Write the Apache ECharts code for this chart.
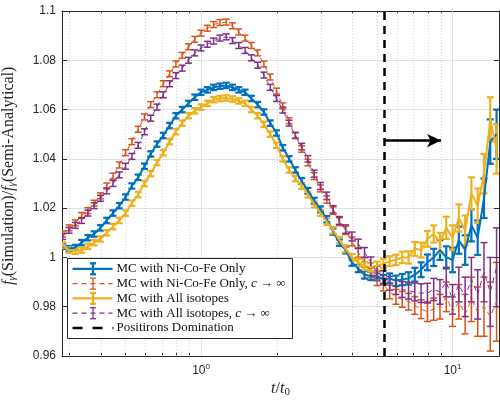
<!DOCTYPE html>
<html><head><meta charset="utf-8">
<script src="https://cdn.jsdelivr.net/npm/echarts@6/dist/echarts.min.js"></script>
<style>html,body{margin:0;padding:0;background:#fff}#c{width:500px;height:400px}</style>
</head><body><div id="c"></div>
<script>
// ---- data ----
const tValues = [0.2818,0.2985,0.3162,0.3350,0.3548,0.3758,0.3981,0.4217,0.4467,0.4732,
 0.5012,0.5309,0.5623,0.5957,0.6310,0.6683,0.7079,0.7499,0.7943,0.8414,
 0.8913,0.9441,1.0000,1.0593,1.1220,1.1885,1.2589,1.3335,1.4125,1.4962,
 1.5849,1.6788,1.7783,1.8836,1.9953,2.1135,2.2387,2.3714,2.5119,2.6607,
 2.8184,2.9854,3.1623,3.3497,3.5481,3.7584,3.9811,4.2170,4.4668,4.7315,
 5.0119,5.3088,5.6234,5.9566,6.3096,6.6834,7.0795,7.4989,7.9433,8.4140,
 8.9125,9.4406,10.000,10.593,11.220,11.885,12.589,13.335,14.125,14.962];

const niCoFe = [1.0045,1.0035,1.0040,1.0060,1.0080,1.0095,1.0120,1.0150,1.0180,1.0210,
 1.0245,1.0290,1.0325,1.0370,1.0420,1.0460,1.0495,1.0535,1.0575,1.0600,
 1.0625,1.0650,1.0670,1.0680,1.0690,1.0695,1.0698,1.0690,1.0680,1.0670,
 1.0645,1.0620,1.0590,1.0545,1.0505,1.0445,1.0400,1.0355,1.0310,1.0270,
 1.0230,1.0195,1.0155,1.0105,1.0060,1.0030,0.9980,0.9955,0.9930,0.9925,
 0.9925,0.9910,0.9915,0.9905,0.9910,0.9915,0.9930,0.9950,0.9980,1.0000,
 1.0030,1.0000,0.9990,1.0070,1.0030,1.0130,1.0080,1.0240,1.0470,1.0500];

const niCoFeInf = [1.0095,1.0120,1.0140,1.0170,1.0190,1.0220,1.0250,1.0290,1.0330,1.0375,
 1.0425,1.0470,1.0520,1.0570,1.0620,1.0660,1.0705,1.0745,1.0785,1.0820,
 1.0855,1.0885,1.0910,1.0930,1.0945,1.0953,1.0955,1.0940,1.0915,1.0890,
 1.0860,1.0830,1.0785,1.0732,1.0675,1.0615,1.0555,1.0495,1.0440,1.0385,
 1.0330,1.0280,1.0235,1.0190,1.0145,1.0110,1.0065,1.0020,0.9980,0.9940,
 0.9910,0.9890,0.9860,0.9840,0.9830,0.9820,0.9805,0.9790,0.9780,0.9790,
 0.9800,0.9840,0.9780,0.9820,0.9770,0.9830,0.9780,0.9800,0.9760,0.9820];

const allIso = [1.0050,1.0030,1.0025,1.0030,1.0045,1.0060,1.0075,1.0100,1.0125,1.0150,
 1.0180,1.0220,1.0255,1.0300,1.0340,1.0385,1.0425,1.0470,1.0510,1.0545,
 1.0575,1.0595,1.0610,1.0625,1.0640,1.0645,1.0647,1.0643,1.0635,1.0625,
 1.0600,1.0575,1.0540,1.0500,1.0455,1.0400,1.0355,1.0320,1.0290,1.0255,
 1.0215,1.0180,1.0145,1.0110,1.0070,1.0035,1.0000,0.9980,0.9965,0.9960,
 0.9965,0.9975,0.9985,0.9990,1.0000,1.0000,1.0035,1.0030,1.0075,1.0095,
 1.0060,1.0120,1.0080,1.0160,1.0110,1.0260,1.0210,1.0340,1.0560,1.0440];

const allIsoInf = [1.0085,1.0110,1.0130,1.0150,1.0180,1.0210,1.0240,1.0270,1.0300,1.0335,
 1.0370,1.0410,1.0455,1.0510,1.0565,1.0610,1.0660,1.0705,1.0738,1.0768,
 1.0800,1.0830,1.0850,1.0865,1.0878,1.0890,1.0895,1.0880,1.0860,1.0840,
 1.0810,1.0780,1.0740,1.0690,1.0645,1.0598,1.0545,1.0495,1.0450,1.0400,
 1.0340,1.0290,1.0250,1.0195,1.0150,1.0115,1.0085,1.0055,1.0020,0.9980,
 0.9940,0.9920,0.9895,0.9880,0.9870,0.9865,0.9860,0.9855,0.9855,0.9870,
 0.9860,0.9900,0.9830,0.9890,0.9840,0.9910,0.9850,0.9940,0.9860,0.9960];

// half-widths of the error bars
const errFinite = [0.0011,0.0011,0.0011,0.0011,0.0011,0.0011,0.0011,0.0011,0.0011,0.0011,
 0.0011,0.0011,0.0011,0.0011,0.0011,0.0011,0.0011,0.0011,0.0011,0.0011,
 0.0011,0.0011,0.0011,0.0011,0.0011,0.0011,0.0011,0.0011,0.0011,0.0011,
 0.0011,0.0011,0.0011,0.0011,0.0011,0.0011,0.0011,0.0011,0.0012,0.0012,
 0.0012,0.0012,0.0013,0.0013,0.0013,0.0014,0.0014,0.0015,0.0016,0.0017,
 0.0018,0.0019,0.0020,0.0021,0.0023,0.0025,0.0028,0.0030,0.0032,0.0035,
 0.0040,0.0045,0.0050,0.0055,0.0060,0.0065,0.0070,0.0080,0.0090,0.0100];

const errInf = [0.0012,0.0012,0.0012,0.0012,0.0012,0.0012,0.0012,0.0012,0.0012,0.0012,
 0.0012,0.0012,0.0012,0.0012,0.0012,0.0012,0.0012,0.0012,0.0012,0.0012,
 0.0012,0.0012,0.0012,0.0012,0.0012,0.0012,0.0012,0.0012,0.0012,0.0012,
 0.0012,0.0012,0.0012,0.0012,0.0012,0.0012,0.0012,0.0012,0.0013,0.0013,
 0.0014,0.0014,0.0015,0.0015,0.0016,0.0017,0.0018,0.0019,0.0020,0.0022,
 0.0024,0.0026,0.0028,0.0030,0.0032,0.0034,0.0036,0.0038,0.0040,0.0045,
 0.0050,0.0060,0.0060,0.0070,0.0080,0.0090,0.0100,0.0120,0.0140,0.0160];

const xMajorTicks = [1, 10];
const xMinorTicks = [0.3,0.4,0.5,0.6,0.7,0.8,0.9,2,3,4,5,6,7,8,9];
const xMin = 0.28, xMax = 15.3;
const yMin = 0.96, yMax = 1.1, yStep = 0.02;
const positronStart = 5.36;
const arrowY = 1.0474, arrowEnd = 9.0;

const seriesNames = ['MC with Ni-Co-Fe Only', 'MC with Ni-Co-Fe Only, c → ∞',
  'MC with All isotopes', 'MC with All isotopes, c → ∞', 'Positirons Domination'];
const legendTexts = ['MC with Ni-Co-Fe Only', 'MC with Ni-Co-Fe Only, {i|c} → ∞',
  'MC with All isotopes', 'MC with All isotopes, {i|c} → ∞', 'Positirons Domination'];
const yTitle = '{i|f}{s|γ}{n|(Simulation)/}{i|f}{s|γ}{n|(Semi-Analytical)}';
const xTitle = '{i|t}{n|/}{i|t}{s|0}';

// ---- styles ----
const C = ['#0072BD', '#D95319', '#EDB120', '#7E2F8E'];
const values = [niCoFe, niCoFeInf, allIso, allIsoInf];
const errs = [errFinite, errInf, errFinite, errInf];
const widths = [2.2, 1.5, 2.2, 1.5];
const lineWidths = [2, 1, 2, 1];
const dashed = [false, true, false, true];
const serif = 'Liberation Serif';
const axisColor = '#262626';

function errRender(color, lw, cap) {
  return function (params, api) {
    const x = api.value(0), y = api.value(1), e = api.value(2);
    const top = api.coord([x, y + e]);
    const bot = api.coord([x, y - e]);
    const h = cap / 2;
    const st = { stroke: color, lineWidth: lw };
    return { type: 'group', children: [
      { type: 'line', shape: { x1: top[0], y1: top[1], x2: bot[0], y2: bot[1] }, style: st },
      { type: 'line', shape: { x1: top[0] - h, y1: top[1], x2: top[0] + h, y2: top[1] }, style: st },
      { type: 'line', shape: { x1: bot[0] - h, y1: bot[1], x2: bot[0] + h, y2: bot[1] }, style: st }
    ]};
  };
}

const series = [];
// grid lines for log axis
series.push({
  type: 'line', data: [], z: 1, silent: true, xAxisIndex: 0, yAxisIndex: 0,
  markLine: {
    silent: true, z: 1, symbol: ['none', 'none'], label: { show: false }, animation: false,
    lineStyle: { color: '#d0d0d0', type: [1, 2], width: 1 },
    data: xMinorTicks.map(v => ({ xAxis: v })).concat(
      xMajorTicks.map(v => ({ xAxis: v, lineStyle: { color: '#e2e2e2', type: 'solid', width: 1 } })))
  }
});
for (let s = 0; s < 4; s++) {
  series.push({
    name: seriesNames[s], type: 'custom', xAxisIndex: 0, yAxisIndex: 0, z: 3, clip: true,
    renderItem: errRender(C[s], widths[s], 7),
    encode: { x: 0, y: 1 },
    data: tValues.map((t, i) => [t, values[s][i], errs[s][i]])
  });
  series.push({
    name: seriesNames[s], type: 'line', xAxisIndex: 0, yAxisIndex: 0, z: 3,
    symbol: 'none', showSymbol: false, silent: true,
    lineStyle: { color: C[s], width: lineWidths[s], type: dashed[s] ? [5, 4] : 'solid' },
    data: tValues.map((t, i) => [t, values[s][i]])
  });
}
series.push({
  name: seriesNames[4], type: 'line', data: [], z: 5, xAxisIndex: 0, yAxisIndex: 0,
  markLine: {
    silent: true, z: 5, animation: false, label: { show: false }, symbol: ['none', 'none'],
    data: [
      { xAxis: positronStart, lineStyle: { color: '#000', width: 2.5, type: [8, 6] } },
      [ { coord: [positronStart, arrowY], symbol: 'none', lineStyle: { color: '#000', width: 2.5, type: 'solid' } },
        { coord: [arrowEnd, arrowY], symbol: 'arrow', symbolSize: [10, 14] } ]
    ]
  }
});

function xAx(pos, ticks, len, showLine, showLabel) {
  return {
    type: 'log', logBase: 10, min: xMin, max: xMax, position: pos, gridIndex: 0,
    axisLine: { show: showLine, onZero: false, lineStyle: { color: axisColor, width: 1 } },
    axisTick: { show: true, inside: true, length: len, customValues: ticks, lineStyle: { color: axisColor, width: 1 } },
    axisLabel: {
      show: showLabel, customValues: ticks, margin: 7, color: axisColor,
      fontFamily: 'Liberation Sans', fontSize: 12,
      formatter: v => '{b|10}{s|' + Math.round(Math.log10(v)) + '}',
      rich: { b: { fontSize: 12, fontFamily: 'Liberation Sans', color: axisColor, lineHeight: 16 },
              s: { fontSize: 8, fontFamily: 'Liberation Sans', color: axisColor, lineHeight: 10, verticalAlign: 'top' } }
    },
    splitLine: { show: false }, minorTick: { show: false }, minorSplitLine: { show: false }
  };
}

const xAxes = [xAx('bottom', xMajorTicks, 5, true, true), xAx('bottom', xMinorTicks, 3, false, false),
               xAx('top', xMajorTicks, 5, true, false), xAx('top', xMinorTicks, 3, false, false)];
xAxes[0].name = xTitle;
xAxes[0].nameLocation = 'middle';
xAxes[0].nameGap = 24;
xAxes[0].nameMoveOverlap = false;
xAxes[0].nameTextStyle = { rich: {
  i: { fontFamily: serif, fontStyle: 'italic', fontSize: 16, color: axisColor, lineHeight: 18 },
  n: { fontFamily: serif, fontSize: 16, color: axisColor, lineHeight: 18 },
  s: { fontFamily: serif, fontSize: 11, color: axisColor, lineHeight: 12, verticalAlign: 'bottom' } } };

function yAx(pos, showLabel) {
  return {
    type: 'value', min: yMin, max: yMax, interval: yStep, position: pos, gridIndex: 0,
    axisLine: { show: true, onZero: false, lineStyle: { color: axisColor, width: 1 } },
    axisTick: { show: true, inside: true, length: 5, lineStyle: { color: axisColor } },
    axisLabel: { show: showLabel, margin: 6, color: axisColor, fontFamily: 'Liberation Sans', fontSize: 12 },
    splitLine: { show: showLabel, lineStyle: { color: '#e2e2e2', width: 1 } }
  };
}
const yAxes = [yAx('left', true), yAx('right', false)];

// legend drawn as graphic (error-bar icons)
const legendChildren = [{ type: 'rect', z: 100, shape: { x: 0, y: 0, width: 225, height: 80 },
  style: { fill: '#fff', stroke: axisColor, lineWidth: 1 } }];
for (let r = 0; r < 5; r++) {
  const y = 10.3 + 14.8 * r;
  if (r < 4) {
    const col = C[r], lw = lineWidths[r] + 0.3;
    legendChildren.push({ type: 'line', z: 101, shape: { x1: 5, y1: y, x2: 45, y2: y },
      style: { stroke: col, lineWidth: lw, lineDash: dashed[r] ? [5, 4] : null } });
    legendChildren.push({ type: 'line', z: 101, shape: { x1: 25.5, y1: y - 5.5, x2: 25.5, y2: y + 5.5 }, style: { stroke: col, lineWidth: lw } });
    legendChildren.push({ type: 'line', z: 101, shape: { x1: 22.5, y1: y - 5.5, x2: 28.5, y2: y - 5.5 }, style: { stroke: col, lineWidth: lw } });
    legendChildren.push({ type: 'line', z: 101, shape: { x1: 22.5, y1: y + 5.5, x2: 28.5, y2: y + 5.5 }, style: { stroke: col, lineWidth: lw } });
  } else {
    legendChildren.push({ type: 'line', z: 101, shape: { x1: 5, y1: y, x2: 46, y2: y },
      style: { stroke: '#000', lineWidth: 2.5, lineDash: [10, 10] } });
  }
  legendChildren.push({ type: 'text', z: 101, x: 49, y: y,
    style: { text: legendTexts[r], fill: '#111', font: '13px "Liberation Serif"', verticalAlign: 'middle', align: 'left',
      rich: { i: { fontFamily: serif, fontStyle: 'italic', fontSize: 13, fill: '#111' } } } });
}

const yTitleEl = {
  type: 'text', x: 9, y: 285, rotation: Math.PI / 2, z: 50,
  style: {
    text: yTitle, align: 'left', verticalAlign: 'middle', fill: axisColor,
    font: '16px "Liberation Serif"',
    rich: {
      i: { fontFamily: serif, fontStyle: 'italic', fontSize: 16, fill: axisColor, lineHeight: 18 },
      n: { fontFamily: serif, fontSize: 16, fill: axisColor, lineHeight: 18 },
      s: { fontFamily: serif, fontStyle: 'italic', fontSize: 11, fill: axisColor, lineHeight: 12, verticalAlign: 'bottom' }
    }
  }
};

const chart = echarts.init(document.getElementById('c'), null, { renderer: 'canvas' });
chart.setOption({
  animation: false,
  backgroundColor: '#fff',
  grid: { left: 62, right: 1, top: 11, bottom: 44, containLabel: false, outerBoundsMode: 'none' },
  xAxis: xAxes,
  yAxis: yAxes,
  series: series,
  graphic: [{ type: 'group', left: 67, top: 258, children: legendChildren }, yTitleEl]
});
</script></body></html>
